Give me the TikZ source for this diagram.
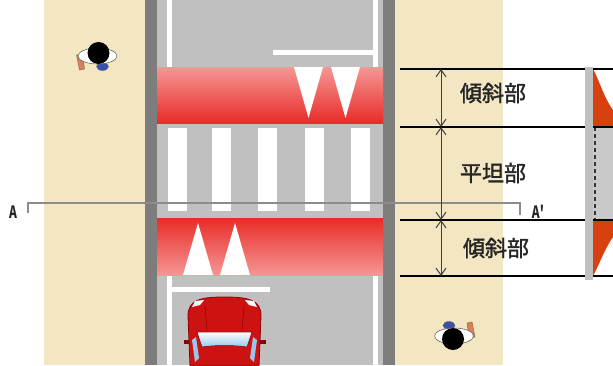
\documentclass[tikz,border=0pt]{standalone}
\usepackage{fontspec}
\setmainfont{Noto Sans CJK JP}
\newfontfamily\labelfont{Noto Sans CJK JP}[FakeBold=1.6]
\usetikzlibrary{arrows.meta,positioning}

\definecolor{walkway}{RGB}{242,231,194}
\definecolor{asphalt}{RGB}{192,192,192}
\definecolor{curbgray}{RGB}{125,125,125}
\definecolor{humppale}{RGB}{245,150,148}
\definecolor{humpred}{RGB}{232,44,40}
\definecolor{carred}{RGB}{205,18,18}
\definecolor{cardark}{RGB}{140,0,0}
\definecolor{glass}{RGB}{150,200,235}
\definecolor{profile}{RGB}{215,65,15}
\definecolor{skin}{RGB}{214,128,92}
\definecolor{shirtblue}{RGB}{60,80,170}

\tikzset{
  walker/.pic={
    \filldraw[fill=skin, draw=skin!70!black, line width=0.4pt] (-21,0) -- (-15,-1) -- (-13,14) -- (-18,15) -- cycle;
    \filldraw[fill=shirtblue, draw=black!60, line width=0.4pt] (5,11.5) ellipse (6 and 4);
    \filldraw[fill=white, draw=black!60, line width=0.6pt] (0,1) ellipse (19.5 and 8);
    \fill[black] (1,-2) circle (11);
  }
}

\begin{document}
\begin{tikzpicture}[x=1pt,y=-1pt]
\tikzstyle{every node}+=[inner sep=0pt]
\tikzstyle{lane}=[white, line width=5pt]
\tikzstyle{guide}=[black, line width=1.3pt]
\tikzstyle{span}=[black!75, line width=1pt, {Straight Barb[length=7pt,width=10pt]}-{Straight Barb[length=7pt,width=10pt]}]
\tikzstyle{part}=[font=\labelfont\fontsize{22}{22}\selectfont, text=black!85]
\tikzstyle{cut}=[black!45, line width=1.4pt]
\tikzstyle{cutlabel}=[font=\bfseries\fontsize{17}{17}\selectfont, text=black!85]
\useasboundingbox (0,0) rectangle (613,365);
% sidewalks, curbs and carriageway
\fill[walkway] (44,0) rectangle (145,365);
\fill[walkway] (395,0) rectangle (503,365);
\fill[curbgray] (145,0) rectangle (157,365);
\fill[curbgray] (383,0) rectangle (395,365);
\fill[asphalt] (157,0) rectangle (383,365);
% lane edges and stop lines
\draw[lane] (169,0) -- (169,67);
\draw[lane] (375,0) -- (375,67);
\draw[lane] (273,52) -- (377,52);
\draw[lane] (169,275) -- (169,365);
\draw[lane] (375,275) -- (375,365);
\draw[lane] (167,289) -- (270,289);
% ramps of the raised crossing
\shade[top color=humppale, bottom color=humpred] (157,67) rectangle (383,123);
\shade[top color=humpred, bottom color=humppale] (157,218) rectangle (383,275);
\foreach \x in {294,331} \fill[white] (\x,67) -- (\x+29,67) -- (\x+14.5,118) -- cycle;
\foreach \x in {183,220} \fill[white] (\x,275) -- (\x+30,275) -- (\x+15,223) -- cycle;
% zebra on the flat top
\foreach \x in {168,212,258,305,351} \fill[white] (\x,128) rectangle ++(19,83);
% car
\filldraw[fill=carred, draw=cardark, line width=0.8pt] (190,366) -- (188,316) .. controls (188,300) and (200,297) .. (224.5,297) .. controls (249,297) and (261,300) .. (261,316) -- (259,366) -- cycle;
\fill[cardark] (184,340) rectangle (189,344);
\fill[cardark] (260,340) rectangle (266,344);
\fill[white] (192,307) -- (195,301) -- (204,300) -- (200,305) -- cycle;
\fill[white] (257,307) -- (254,301) -- (245,300) -- (249,305) -- cycle;
\draw[cardark, line width=0.5pt] (205,306) -- (207,330);
\draw[cardark, line width=0.5pt] (244,306) -- (242,330);
\shade[top color=white, bottom color=glass, draw=cardark, line width=0.5pt] (197,332) -- (252,332) -- (247,347) .. controls (235,345) and (214,345) .. (202,347) -- cycle;
\fill[glass] (192,340) -- (196,337) -- (199,358) -- (195,362) -- cycle;
\fill[glass] (257,340) -- (253,337) -- (250,358) -- (254,362) -- cycle;
% pedestrians
\pic at (97.5,55) {walker};
\pic[rotate=180] at (454,337) {walker};
% section A-A'
\draw[cut] (28,213) -- (28,203) -- (520,203) -- (520,215);
\node[cutlabel] (cutA) at (13,212) {\scalebox{0.7}[1]{A}};
\node[cutlabel] (cutB) at (538,212) {\scalebox{0.7}[1]{A\textquotesingle}};
% cross-section of the hump
\fill[profile] (593,69) .. controls (600,82) and (604,98) .. (613,110) -- (613,127) -- (593,127) -- cycle;
\fill[asphalt!85] (593,127) rectangle (613,220);
\fill[profile] (593,276) .. controls (600,263) and (604,250) .. (613,237) -- (613,220) -- (593,220) -- cycle;
\draw[black!80, line width=1.3pt, dash pattern=on 4pt off 3pt] (595,127) -- (595,220);
% dimension lines
\foreach \y/\n in {69/g1,127/g2,220/g3,276/g4} {
  \coordinate (\n) at (441,\y);
  \draw[guide] (400,\y) -- (613,\y);
}
\fill[asphalt] (585,67) rectangle (593,280);
\draw[span] (g1) -- (g2);
\draw[span] (g2) -- (g3);
\draw[span] (g3) -- (g4);
\node[part] (slope1) at (493,93) {傾斜部};
\node[part] (flat) at (493,173) {平坦部};
\node[part] (slope2) at (496,248) {傾斜部};
\end{tikzpicture}
\end{document}
